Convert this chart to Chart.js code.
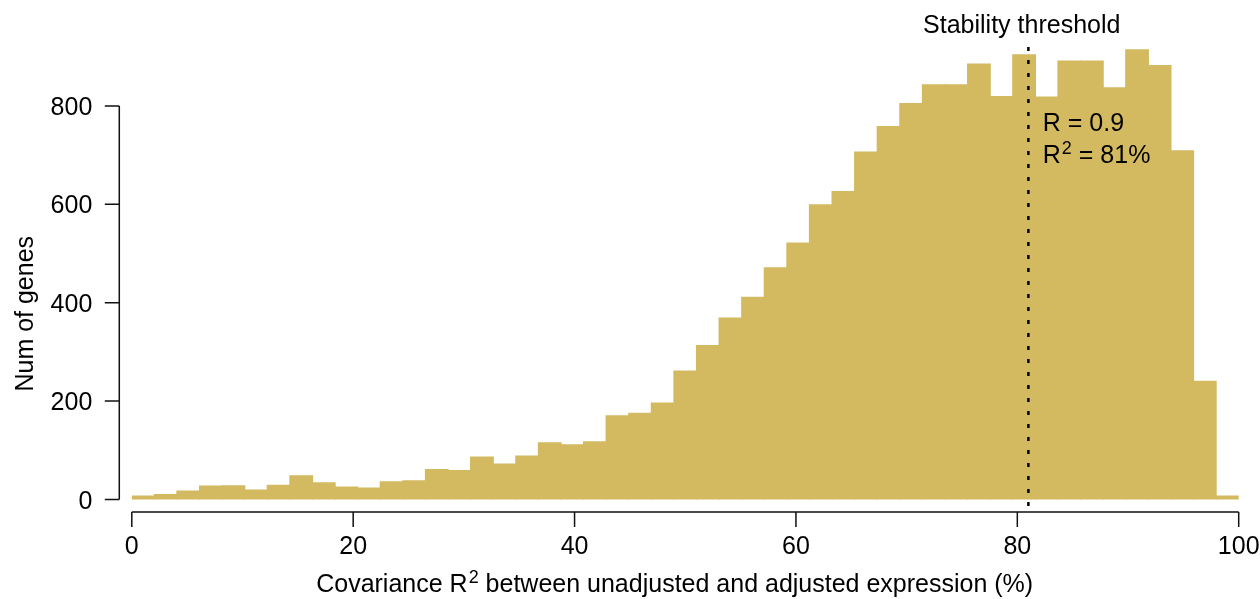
<!DOCTYPE html>
<html>
<head>
<meta charset="utf-8">
<script src="https://cdn.jsdelivr.net/npm/chart.js@4.4.1/dist/chart.umd.min.js"></script>
<style>
  html, body { margin: 0; padding: 0; background: #fff; }
  #chart { display: block; }
</style>
</head>
<body>
<canvas id="chart" width="1260" height="599"></canvas>
<script>
// Histogram of covariance R^2 (49 equal bins over 0..100)
const binRange = [0, 100];
const geneCounts = [
  7, 10, 17, 27, 28, 19, 29, 48, 34, 25,
  23, 36, 38, 61, 59, 86, 72, 88, 115, 111,
  117, 170, 175, 196, 261, 313, 369, 411, 471, 521,
  599, 626, 706, 758, 805, 843, 843, 885, 819, 904,
  818, 891, 891, 837, 914, 882, 709, 240, 7
];
const xTicks = [0, 20, 40, 60, 80, 100];
const yTicks = [0, 200, 400, 600, 800];
const threshold = 81;
const thresholdLabel = 'Stability threshold';
const statLines = [['R = 0.9', ''], ['R', '2', ' = 81%']];
const xTitleParts = ['Covariance R', '2', ' between unadjusted and adjusted expression (%)'];
const yTitle = 'Num of genes';

const FONT = '"Liberation Sans", Arial, Helvetica, sans-serif';
const BAR_COLOR = '#d3ba60';

const binWidth = (binRange[1] - binRange[0]) / geneCounts.length;
const points = geneCounts.map((v, i) => ({ x: binRange[0] + (i + 0.5) * binWidth, y: v }));

// draw text with a superscript piece: parts = [base, sup, rest]
function drawSupText(ctx, parts, x, y, align) {
  const big = '25px ' + FONT;
  const small = '18px ' + FONT;
  ctx.font = big;
  const w0 = ctx.measureText(parts[0]).width;
  const w2 = parts[2] ? ctx.measureText(parts[2]).width : 0;
  ctx.font = small;
  const w1 = parts[1] ? ctx.measureText(parts[1]).width : 0;
  const total = w0 + w1 + w2;
  let left = align === 'center' ? x - total / 2 : x;
  ctx.textAlign = 'left';
  ctx.textBaseline = 'alphabetic';
  ctx.font = big;
  ctx.fillText(parts[0], left, y);
  ctx.font = small;
  if (parts[1]) ctx.fillText(parts[1], left + w0 + 1, y - 9);
  ctx.font = big;
  if (parts[2]) ctx.fillText(parts[2], left + w0 + w1 + 1, y);
}

const axesPlugin = {
  id: 'rAxes',
  afterDatasetsDraw(chart) {
    const ctx = chart.ctx;
    const xs = chart.scales.x;
    const ys = chart.scales.y;
    ctx.save();

    // threshold line (dotted)
    const tx = xs.getPixelForValue(threshold);
    ctx.strokeStyle = '#000';
    ctx.lineWidth = 2.5;
    ctx.setLineDash([4, 9]);
    ctx.beginPath();
    ctx.moveTo(tx, ys.getPixelForValue(920));
    ctx.lineTo(tx, ys.getPixelForValue(-22));
    ctx.stroke();
    ctx.setLineDash([]);

    ctx.fillStyle = '#000';
    ctx.font = '25px ' + FONT;
    ctx.textAlign = 'center';
    ctx.textBaseline = 'alphabetic';
    ctx.fillText(thresholdLabel, xs.getPixelForValue(threshold - 0.6), ys.getPixelForValue(948));

    // R annotation
    const ax = xs.getPixelForValue(82.3);
    ctx.textAlign = 'left';
    ctx.fillText(statLines[0][0], ax, ys.getPixelForValue(750));
    drawSupText(ctx, statLines[1], ax, ys.getPixelForValue(685), 'left');

    // axes
    ctx.strokeStyle = '#111';
    ctx.lineWidth = 1.5;

    // x axis
    const xAxisY = ys.getPixelForValue(0) + 12.5;
    ctx.beginPath();
    ctx.moveTo(xs.getPixelForValue(xTicks[0]), xAxisY);
    ctx.lineTo(xs.getPixelForValue(xTicks[xTicks.length - 1]), xAxisY);
    xTicks.forEach(t => {
      const px = xs.getPixelForValue(t);
      ctx.moveTo(px, xAxisY);
      ctx.lineTo(px, xAxisY + 15);
    });
    ctx.stroke();
    ctx.font = '25px ' + FONT;
    ctx.textAlign = 'center';
    xTicks.forEach(t => {
      ctx.fillText(String(t), xs.getPixelForValue(t), xAxisY + 41.5);
    });

    // y axis
    const yAxisX = xs.left - 12.5;
    ctx.beginPath();
    ctx.moveTo(yAxisX, ys.getPixelForValue(yTicks[0]));
    ctx.lineTo(yAxisX, ys.getPixelForValue(yTicks[yTicks.length - 1]));
    yTicks.forEach(t => {
      const py = ys.getPixelForValue(t);
      ctx.moveTo(yAxisX, py);
      ctx.lineTo(yAxisX - 14.5, py);
    });
    ctx.stroke();
    ctx.textAlign = 'right';
    yTicks.forEach(t => {
      ctx.fillText(String(t), yAxisX - 27, ys.getPixelForValue(t) + 9);
    });

    // titles
    drawSupText(ctx, xTitleParts, xs.getPixelForValue(49), xAxisY + 80, 'center');

    ctx.save();
    ctx.translate(33, (ys.getPixelForValue(0) + ys.getPixelForValue(800)) / 2 + 11);
    ctx.rotate(-Math.PI / 2);
    ctx.textAlign = 'center';
    ctx.font = '25px ' + FONT;
    ctx.fillText(yTitle, 0, 0);
    ctx.restore();

    ctx.restore();
  }
};

new Chart(document.getElementById('chart'), {
  type: 'bar',
  data: {
    datasets: [{
      data: points,
      backgroundColor: BAR_COLOR,
      borderWidth: 0,
      inflateAmount: 0.6,
      barPercentage: 1,
      categoryPercentage: 1
    }]
  },
  options: {
    responsive: false,
    animation: false,
    events: [],
    layout: { padding: { left: 131.8, right: 21.3, top: 7.6, bottom: 99.5 } },
    plugins: { legend: { display: false }, tooltip: { enabled: false } },
    scales: {
      x: { type: 'linear', min: binRange[0], max: binRange[1], offset: false, display: false },
      y: { type: 'linear', min: 0, max: 1000, display: false }
    }
  },
  plugins: [axesPlugin]
});
</script>
</body>
</html>
